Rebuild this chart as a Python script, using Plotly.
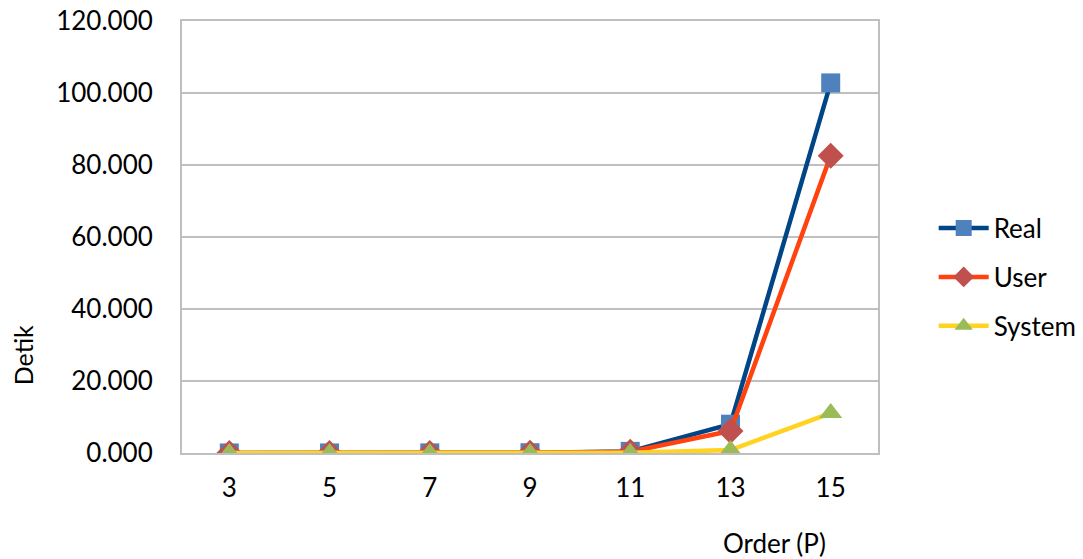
import plotly.graph_objects as go

categories = ["3", "5", "7", "9", "11", "13", "15"]
real = [0.01, 0.02, 0.03, 0.08, 0.45, 8.0, 102.8]
user = [0.01, 0.01, 0.02, 0.06, 0.35, 6.1, 82.6]
system = [0.0, 0.0, 0.01, 0.02, 0.08, 0.8, 11.1]
y_ticks = [0, 20, 40, 60, 80, 100, 120]

FONT = "Lato"
FS = 26

fig = go.Figure()
fig.add_trace(go.Scatter(x=categories, y=real, name="Real", mode="lines+markers",
                         legendgroup="a",
                         line=dict(color="#004586", width=4.5),
                         marker=dict(symbol="square", size=19, color="#4F81BD")))
fig.add_trace(go.Scatter(x=categories, y=user, name="User", mode="lines+markers",
                         legendgroup="b",
                         line=dict(color="#FF420E", width=4.5),
                         marker=dict(symbol="diamond", size=20, color="#C0504D")))
fig.add_trace(go.Scatter(x=categories, y=system, name="System", mode="lines+markers",
                         legendgroup="c",
                         line=dict(color="#FFD320", width=4.5),
                         marker=dict(symbol="triangle-up", size=20, color="#9BBB59")))

fig.update_layout(
    width=1083, height=559,
    margin=dict(l=182, r=205, t=21, b=106, autoexpand=False),
    paper_bgcolor="white", plot_bgcolor="white",
    font=dict(family=FONT, size=FS, color="black"),
    showlegend=True,
    legend=dict(x=1.08, y=0.407, xanchor="left", yanchor="middle",
                font=dict(family=FONT, size=FS), itemwidth=50,
                tracegroupgap=12, bgcolor="rgba(0,0,0,0)"),
    xaxis=dict(type="category", showgrid=False, showline=True, mirror=True,
               linecolor="#BFBFBF", linewidth=2, ticks="", ticklen=0,
               tickfont=dict(family=FONT, size=FS), zeroline=False,
               ticklabelstandoff=11),
    yaxis=dict(range=[0, 120], tickvals=y_ticks, tickformat=".3f",
               showgrid=True, gridcolor="#BFBFBF", gridwidth=1.5,
               showline=True, mirror=True, linecolor="#BFBFBF", linewidth=2,
               ticks="", tickfont=dict(family=FONT, size=FS), zeroline=False,
               ticklabelstandoff=22, ticklabeloverflow="allow"),
    annotations=[
        dict(text="Detik", xref="paper", yref="paper", x=-0.228, y=0.227,
             textangle=-90, showarrow=False, font=dict(family=FONT, size=25),
             xanchor="center", yanchor="middle"),
        dict(text="Order (P)", xref="paper", yref="paper", x=0.852, y=-0.208,
             showarrow=False, font=dict(family=FONT, size=FS),
             xanchor="center", yanchor="middle"),
    ],
)

fig.write_html("out.html",
               config={"displayModeBar": False},
               post_script="document.body.style.margin='0';document.body.style.overflow='hidden';")
